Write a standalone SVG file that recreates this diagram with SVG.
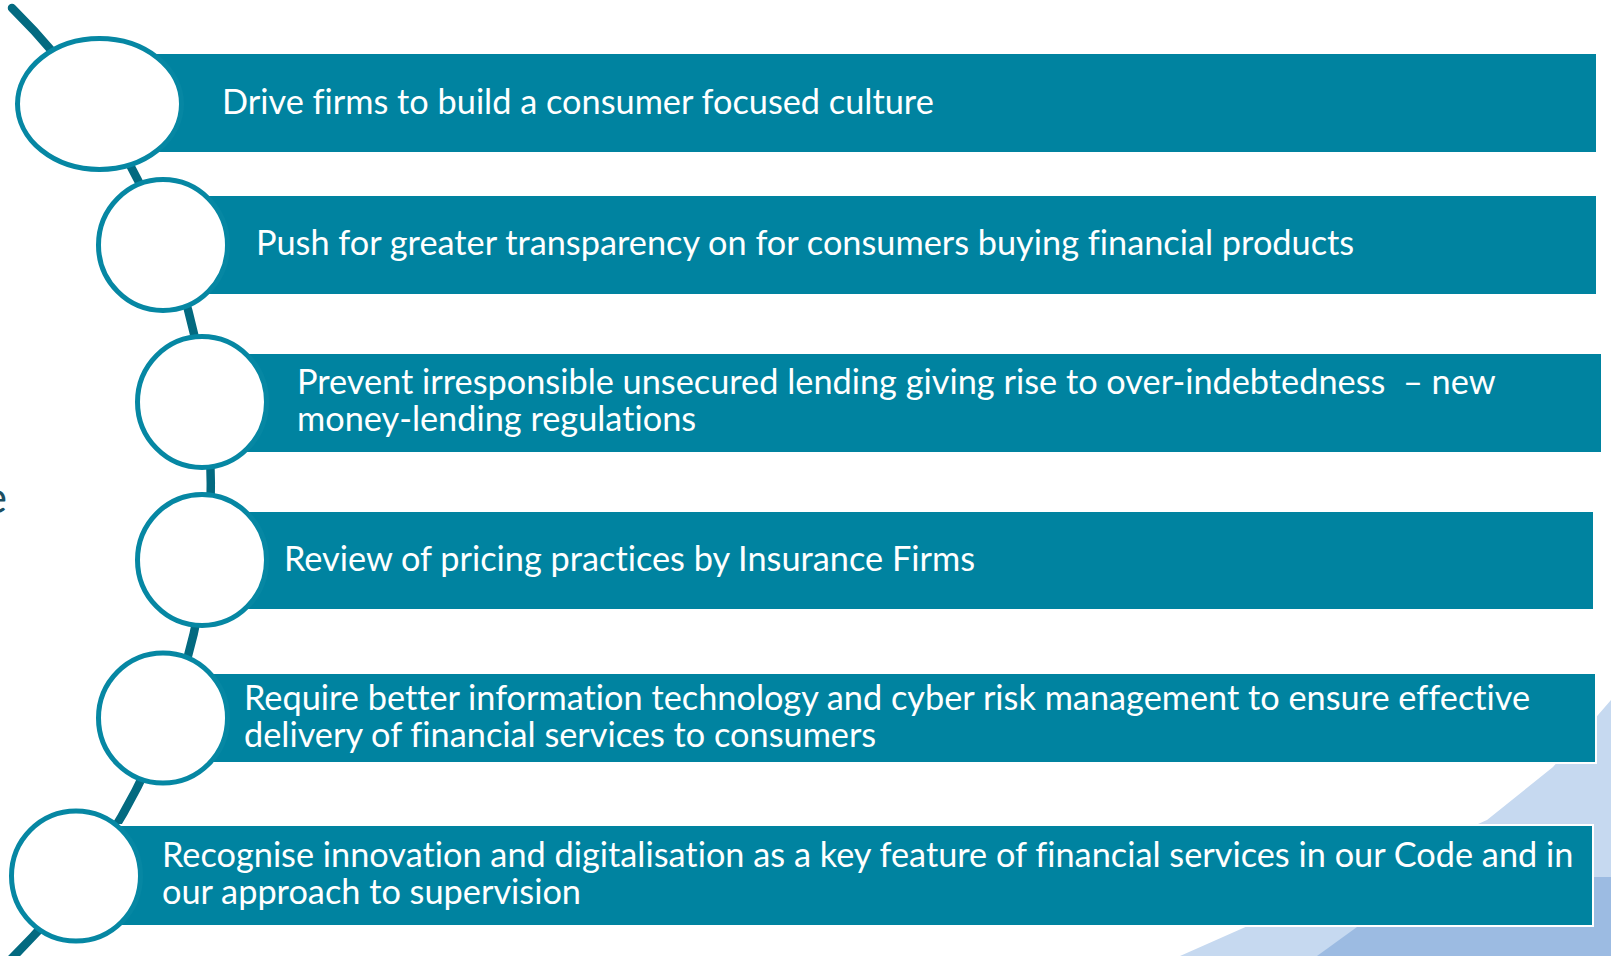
<svg xmlns="http://www.w3.org/2000/svg" width="1611" height="956" viewBox="0 0 1611 956">
  <style>
    .bar { fill: #0083a0; stroke: #ffffff; stroke-width: 2; }
    .disc { fill: #ffffff; stroke: #0687a3; stroke-width: 5; }
    .label { font-family: Lato, "Open Sans", "Liberation Sans", sans-serif; font-size: 34.3px; fill: #ffffff; font-variant-ligatures: none; white-space: pre; }
    .spine { fill: none; stroke: #036a80; stroke-width: 8.5; stroke-linecap: round; }
  </style>
  <rect width="1611" height="956" fill="#ffffff"/>

  <!-- decorative corner shading -->
  <g id="background">
    <polygon points="1611,700 1553,767 1487,820 1180,956 1611,956" fill="#c6d9f0"/>
    <polygon points="1426,877 1611,877 1611,956 1317,956" fill="#9cbbe2"/>
    <text x="7" y="513" text-anchor="end" font-family="Lato, 'Liberation Sans', sans-serif" font-size="44" fill="#1d4f62">e</text>
  </g>

  <!-- arc linking the markers -->
  <g id="connectors">
    <path class="spine" d="M 12,8 A 667 667 0 0 1 8,962"/>
  </g>

  <g id="node1">
    <rect class="bar" x="140" y="53" width="1457" height="100"/>
    <ellipse class="disc" cx="99.5" cy="104" rx="82" ry="65.5"/>
    <text class="label" x="222" y="114">Drive firms to build a consumer focused culture</text>
  </g>

  <g id="node2">
    <rect class="bar" x="200" y="195" width="1397" height="100"/>
    <ellipse class="disc" cx="163" cy="245" rx="64.5" ry="65.5"/>
    <text class="label" x="256" y="255">Push for greater transparency on for consumers buying financial products</text>
  </g>

  <g id="node3">
    <rect class="bar" x="240" y="353" width="1362" height="100"/>
    <ellipse class="disc" cx="202" cy="402" rx="64.5" ry="65.5"/>
    <text class="label" x="297" y="394">Prevent irresponsible unsecured lending giving rise to over-indebtedness  – new</text>
    <text class="label" x="297" y="431">money-lending regulations</text>
  </g>

  <g id="node4">
    <rect class="bar" x="240" y="511" width="1354" height="99"/>
    <ellipse class="disc" cx="202" cy="560" rx="64.5" ry="65.5"/>
    <text class="label" x="284" y="571">Review of pricing practices by Insurance Firms</text>
  </g>

  <g id="node5">
    <rect class="bar" x="200" y="673" width="1396" height="90"/>
    <ellipse class="disc" cx="163" cy="718" rx="64.5" ry="65"/>
    <text class="label" x="244" y="710">Require better information technology and cyber risk management to ensure effective</text>
    <text class="label" x="244" y="747">delivery of financial services to consumers</text>
  </g>

  <g id="node6">
    <rect class="bar" x="110" y="825" width="1483" height="101"/>
    <ellipse class="disc" cx="76" cy="876" rx="64.5" ry="65"/>
    <text class="label" x="162" y="867">Recognise innovation and digitalisation as a key feature of financial services in our Code and in</text>
    <text class="label" x="162" y="904">our approach to supervision</text>
  </g>
</svg>
